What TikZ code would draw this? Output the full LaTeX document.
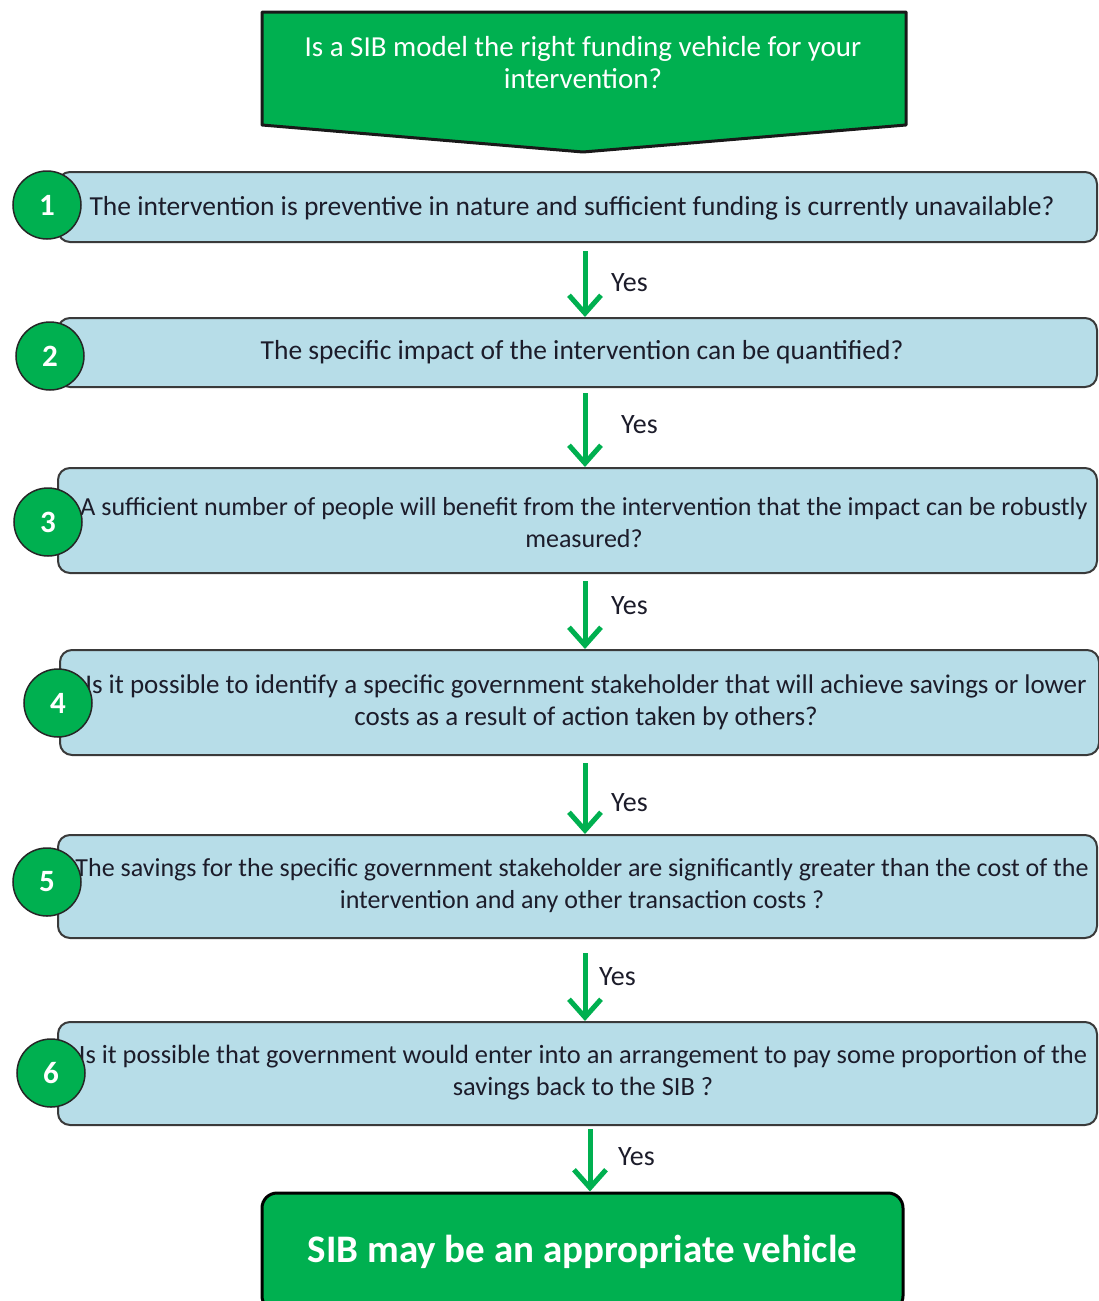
\documentclass[tikz,border=0pt]{standalone}
\usepackage{fontspec}
\setmainfont{Carlito}
\usetikzlibrary{arrows.meta,calc}
\definecolor{sibgreen}{HTML}{00B050}
\definecolor{boxblue}{HTML}{B7DDE8}
\definecolor{edgegray}{HTML}{3A3A3A}
\definecolor{inkdark}{HTML}{1C1C2A}

\begin{document}
\begin{tikzpicture}[x=1pt,y=-1pt,
  qbox/.style={draw=edgegray, line width=2pt, fill=boxblue, rounded corners=12pt,
    minimum width=1039pt, inner sep=0pt},
  qtext/.style={font=\fontsize{26}{32}\selectfont, align=center, inner sep=0pt, text=inkdark},
  qtextwide/.style={qtext, font=\fontsize{27.5}{32}\selectfont},
  numdisc/.style={circle, draw=black!85, line width=1.5pt, fill=sibgreen, minimum size=68pt,
    inner sep=0pt, text=white, font=\fontsize{31}{31}\selectfont\bfseries},
  yesarrow/.style={draw=sibgreen, line width=5pt, -{Straight Barb[length=18pt,width=32pt]}},
  yeslabel/.style={font=\fontsize{28}{28}\selectfont, inner sep=0pt, anchor=west, text=inkdark},
  endbox/.style={draw=black, line width=3pt, fill=sibgreen, rounded corners=15pt,
    minimum width=641pt, minimum height=118pt, inner sep=0pt, text=white,
    font=\fontsize{39}{39}\selectfont\bfseries}
]
\useasboundingbox (0,0) rectangle (1099,1301);

% opening question banner
\draw[draw=black!90, line width=3pt, fill=sibgreen, line join=round]
  (262,12) -- (906,12) -- (906,125) -- (583,152) -- (262,125) -- cycle;
\node[align=center, inner sep=0pt, text=white, font=\fontsize{29}{32}\selectfont]
  (title) at (583,63) {Is a SIB model the right funding vehicle for your\\intervention?};

% question boxes
\node[qbox, minimum height=70pt]  (q1) at (577.5,207)   {};
\node[qbox, minimum height=69pt]  (q2) at (577.5,352.5) {};
\node[qbox, minimum height=105pt] (q3) at (577.5,520.5) {};
\node[qbox, minimum height=105pt] (q4) at (579.5,702.5) {};
\node[qbox, minimum height=103pt] (q5) at (577.5,886.5) {};
\node[qbox, minimum height=103pt] (q6) at (577.5,1073.5) {};

\node[qtextwide] (t1) at (572,208) {The intervention is preventive in nature and sufficient funding is currently unavailable?};
\node[qtextwide] (t2) at (582,352) {The specific impact of the intervention can be quantified?};
\node[qtext] (t3) at (584,523) {A sufficient number of people will benefit from the intervention that the impact can be robustly\\measured?};
\node[qtext, font=\fontsize{27}{32}\selectfont] (t4) at (586,702) {Is it possible to identify a specific government stakeholder that will achieve savings or lower\\costs as a result of action taken by others?};
\node[qtext] (t5) at (582,886) {The savings for the specific government stakeholder are significantly greater than the cost of the\\intervention and any other transaction costs ?};
\node[qtext, font=\fontsize{26.4}{32}\selectfont] (t6) at (583,1073) {Is it possible that government would enter into an arrangement to pay some proportion of the\\savings back to the SIB ?};

% numbered discs
\node[numdisc] (n1) at (47,205)  {1};
\node[numdisc] (n2) at (50,356)  {2};
\node[numdisc] (n3) at (48,522)  {3};
\node[numdisc] (n4) at (58,703)  {4};
\node[numdisc] (n5) at (47,882)  {5};
\node[numdisc] (n6) at (51,1073) {6};

% final outcome, running off the lower edge
\node[endbox] (result) at (582.5,1252) {SIB may be an appropriate vehicle};

% yes arrows
\coordinate (ax) at (585,0);
\coordinate (bx) at (590,0);
\draw[yesarrow, shorten <=8pt] (q1.south -| ax) -- (q2.north -| ax);
\draw[yesarrow, shorten <=5pt] (q2.south -| ax) -- (q3.north -| ax);
\draw[yesarrow, shorten <=7pt] (q3.south -| ax) -- (q4.north -| ax);
\draw[yesarrow, shorten <=7pt] (q4.south -| ax) -- (q5.north -| ax);
\draw[yesarrow, shorten <=14pt] (q5.south -| ax) -- (q6.north -| ax);
\draw[yesarrow, shorten <=3pt] (q6.south -| bx) -- (result.north -| bx);

\node[yeslabel] (y1) at (611,283)  {Yes};
\node[yeslabel] (y2) at (621,425)  {Yes};
\node[yeslabel] (y3) at (611,606)  {Yes};
\node[yeslabel] (y4) at (611,803)  {Yes};
\node[yeslabel] (y5) at (599,977)  {Yes};
\node[yeslabel] (y6) at (618,1157) {Yes};
\end{tikzpicture}
\end{document}
